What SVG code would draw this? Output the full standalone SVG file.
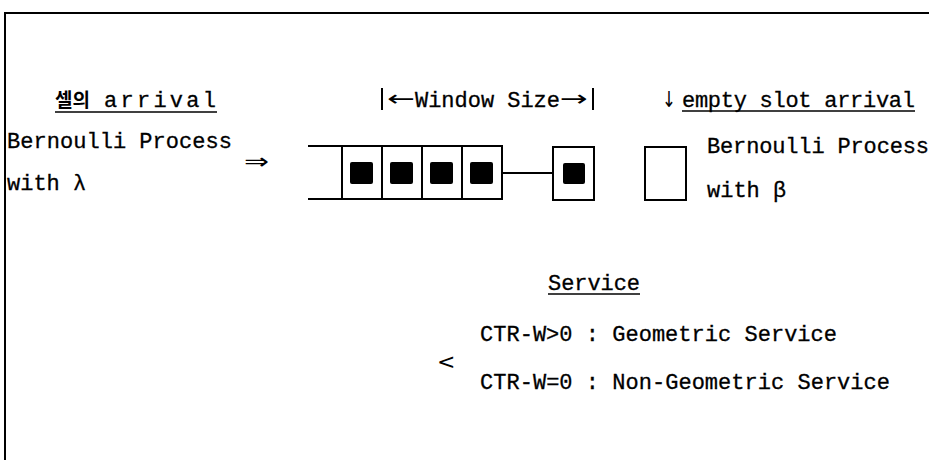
<svg xmlns="http://www.w3.org/2000/svg" width="929" height="460" viewBox="0 0 929 460">
<style>
  text { font-family: "Liberation Mono", "DejaVu Sans Mono", "Noto Sans CJK KR", monospace; font-size: 22px; fill: #000; stroke: #000; stroke-width: 0.3; }
  .ko { font-family: "Noto Sans CJK KR", sans-serif; font-size: 19px; font-weight: 700; stroke-width: 0; }
  .sym { font-family: "DejaVu Sans", sans-serif; stroke-width: 0; }
  .ln { stroke: #000; stroke-width: 2; fill: none; }
  .ul { stroke: #000; stroke-width: 1.6; fill: none; }
  .cell { stroke: #000; stroke-width: 2; fill: #fff; }
  .pkt { fill: #000; }
</style>
<path class="ln" d="M5,460 V13 H929"/>

<g id="cell-arrival-label">
  <text class="ko" x="55" y="107">셀의</text>
  <text x="104" y="107" textLength="112" lengthAdjust="spacing">arrival</text>
  <line class="ul" x1="55" y1="112" x2="217" y2="112"/>
</g>

<g id="arrival-process">
  <text x="7" y="148" textLength="225" lengthAdjust="spacing">Bernoulli Process</text>
  <text class="sym" x="244" y="169" font-size="22" textLength="25" lengthAdjust="spacingAndGlyphs">⇒</text>
  <text x="7" y="190">with λ</text>
</g>

<g id="window-size-label">
  <line class="ln" x1="382" y1="88" x2="382" y2="110" stroke-width="1.5"/>
  <text class="sym" x="387" y="106" textLength="28" lengthAdjust="spacingAndGlyphs">←</text>
  <text x="415" y="107" textLength="145" lengthAdjust="spacing">Window Size</text>
  <text class="sym" x="560" y="106" textLength="28" lengthAdjust="spacingAndGlyphs">→</text>
  <line class="ln" x1="593" y1="88" x2="593" y2="110" stroke-width="1.5"/>
</g>

<g id="queue">
  <line class="ln" x1="308" y1="146" x2="502" y2="146"/>
  <line class="ln" x1="308" y1="199" x2="502" y2="199"/>
  <rect class="cell" x="342" y="146" width="40" height="53"/>
  <rect class="cell" x="382" y="146" width="40" height="53"/>
  <rect class="cell" x="422" y="146" width="40" height="53"/>
  <rect class="cell" x="462" y="146" width="40" height="53"/>
  <rect class="pkt" x="350" y="162" width="23" height="22" rx="2"/>
  <rect class="pkt" x="390" y="162" width="23" height="22" rx="2"/>
  <rect class="pkt" x="430" y="162" width="23" height="22" rx="2"/>
  <rect class="pkt" x="470" y="162" width="23" height="22" rx="2"/>
</g>

<g id="server">
  <rect class="cell" x="553" y="147" width="41" height="53"/>
  <rect class="pkt" x="563" y="163" width="22" height="21" rx="2"/>
</g>

<g id="connectors">
  <line class="ln" x1="502" y1="173" x2="553" y2="173"/>
</g>

<g id="empty-slot">
  <rect class="cell" x="645" y="147" width="41" height="53"/>
</g>

<g id="empty-slot-label">
  <text class="sym" x="662" y="107" font-size="22" textLength="14" lengthAdjust="spacingAndGlyphs">↓</text>
  <text x="682" y="107" textLength="233" lengthAdjust="spacing">empty slot arrival</text>
  <line class="ul" x1="682" y1="111" x2="915" y2="111"/>
</g>

<g id="slot-process">
  <text x="707" y="153" textLength="222" lengthAdjust="spacing">Bernoulli Process</text>
  <text x="707" y="197">with β</text>
</g>

<g id="service">
  <text x="548" y="290" textLength="92" lengthAdjust="spacing">Service</text>
  <line class="ul" x1="548" y1="294" x2="640" y2="294"/>
  <text class="sym" x="437" y="369" font-size="30">&lt;</text>
  <text x="480" y="341" textLength="357" lengthAdjust="spacing">CTR-W&gt;0 : Geometric Service</text>
  <text x="480" y="389" textLength="410" lengthAdjust="spacing">CTR-W=0 : Non-Geometric Service</text>
</g>
</svg>
